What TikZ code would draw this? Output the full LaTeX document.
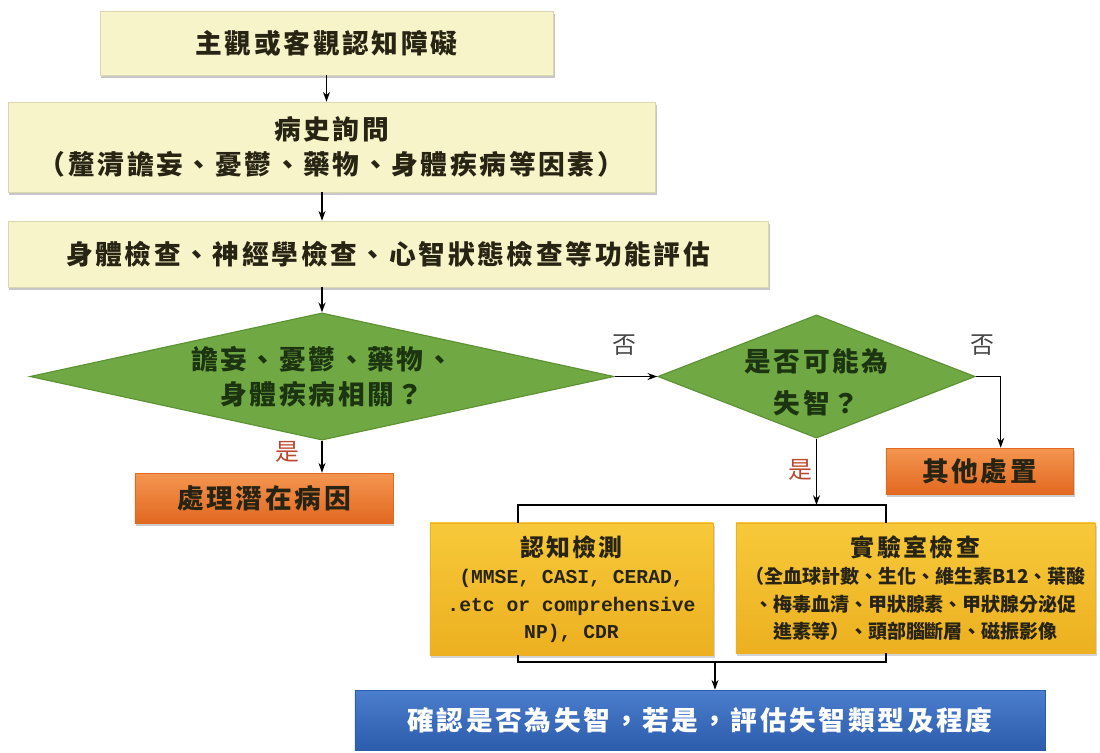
\documentclass[tikz,border=0pt]{standalone}
\usepackage{fontspec}
\setmainfont{Noto Sans CJK TC}[LetterSpace=10]
\newfontfamily\smallcjk{Noto Sans CJK TC}
\setmonofont{Liberation Mono}
\usepackage{tikz}
\usetikzlibrary{arrows.meta,shapes.geometric,shadows,positioning}
\usepackage{xcolor}

\definecolor{creamfill}{RGB}{248,244,202}
\definecolor{greenfill}{RGB}{112,168,68}
\definecolor{greenedge}{RGB}{92,146,52}
\definecolor{greentext}{RGB}{28,52,16}
\definecolor{orangetop}{RGB}{244,150,80}
\definecolor{orangebot}{RGB}{226,104,32}
\definecolor{goldtop}{RGB}{247,201,58}
\definecolor{goldbot}{RGB}{236,176,32}
\definecolor{bluetop}{RGB}{76,126,206}
\definecolor{bluebot}{RGB}{44,92,172}
\definecolor{yesred}{RGB}{184,72,48}
\definecolor{notext}{RGB}{70,70,70}
\definecolor{boxtext}{RGB}{40,36,20}

\begin{document}
\begin{tikzpicture}[x=0.025cm, y=-0.025cm,
    every node/.style={font=\fontsize{19}{25}\selectfont\bfseries, text=boxtext},
    creambox/.style={fill=creamfill, draw=creamfill!88!black, align=center, drop shadow={shadow xshift=1pt, shadow yshift=-2pt, opacity=0.45}},
    decision/.style={diamond, fill=greenfill, draw=greenedge, thick, inner sep=0pt, align=center, text=greentext},
    orangebox/.style={top color=orangetop, bottom color=orangebot, draw=orangebot, align=center, drop shadow={shadow xshift=1pt, shadow yshift=-2pt, opacity=0.4}},
    goldbox/.style={top color=goldtop, bottom color=goldbot, draw=goldbot, align=center, drop shadow={shadow xshift=1pt, shadow yshift=-2pt, opacity=0.35}},
    answer/.style={font=\fontsize{17}{20}\selectfont},
    arr/.style={-{Stealth[length=7pt,width=5pt]}, line width=0.9pt},
    bracket/.style={line width=2pt}]

    \useasboundingbox (0,0) rectangle (1100,752);

    % Complaint
    \node[creambox, minimum width=11.33cm, minimum height=1.6cm] (start) at (326.5,43) {主觀或客觀認知障礙};

    % History taking
    \node[creambox, minimum width=16.18cm, minimum height=2.25cm] (history) at (331.5,147) {病史詢問\\（釐清譫妄、憂鬱、藥物、身體疾病等因素）};

    % Examinations
    \node[creambox, minimum width=19cm, minimum height=1.65cm] (exam) at (388,254) {身體檢查、神經學檢查、心智狀態檢查等功能評估};

    % Decisions
    \node[decision, aspect=4.6, minimum width=14.6cm, minimum height=3.18cm] (related) at (322,376.5) {譫妄、憂鬱、藥物、\\身體疾病相關？};
    \node[decision, aspect=2.58, inner sep=-14pt, minimum width=7.93cm, minimum height=3.08cm, font=\fontsize{19}{30}\selectfont\bfseries] (dementia) at (816.5,376.5) {\\[-6pt]是否可能為\\失智？};

    % Orange outcomes
    \node[orangebox, minimum width=6.45cm, minimum height=1.25cm] (treat) at (264,498) {處理潛在病因};
    \node[orangebox, minimum width=4.68cm, minimum height=1.15cm] (other) at (979.5,471) {其他處置};

    % Work-up
    \node[goldbox, minimum width=7.08cm, minimum height=3.3cm, font=\fontsize{14}{19.5}\selectfont\bfseries] (cog) at (571.5,589)
        {{\fontsize{17}{19.5}\selectfont 認知檢測}\\\ttfamily (MMSE, CASI, CERAD,\\\ttfamily .etc or comprehensive\\\ttfamily NP), CDR};
    \node[goldbox, minimum width=8.98cm, minimum height=3.25cm, font=\fontsize{13.5}{19.5}\selectfont\bfseries] (lab) at (915.5,588)
        {{\fontsize{17}{19.5}\selectfont 實驗室檢查}\\\smallcjk （全血球計數、生化、維生素B12、葉酸\\\smallcjk 、梅毒血清、甲狀腺素、甲狀腺分泌促\\\smallcjk 進素等）、頭部腦斷層、磁振影像};

    % Result
    \node[top color=bluetop, bottom color=bluebot, draw=bluebot, minimum width=17.25cm, minimum height=1.5cm, text=white] (result) at (700,720) {確認是否為失智，若是，評估失智類型及程度};

    % Arrows
    \draw[arr] (start.south) -- (start.south |- history.north);
    \draw[arr] (related.north |- history.south) -- (related.north |- exam.north);
    \draw[arr] (related.north |- exam.south) -- (related.north);
    \draw[arr] (related.south) -- (related.south |- treat.north);
    \draw[arr] (related.east) -- (dementia.west);
    \draw[arr] (dementia.east) -| ([xshift=0.53cm]other.north);

    % Brackets round the work-up
    \coordinate (splitL) at (518,505);
    \coordinate (splitR) at (886,505);
    \coordinate (joinL) at (518,662);
    \coordinate (joinR) at (886,662);
    \coordinate (joinM) at (715,662);
    \draw[bracket] (splitL |- cog.north) -- (splitL) -- (splitR) -- (splitR |- lab.north);
    \draw[bracket] (joinL |- cog.south) -- (joinL) -- (joinR) -- (joinR |- lab.south);
    \draw[arr] (dementia.south) -- (dementia.south |- splitL);
    \draw[arr] (joinM) -- (joinM |- result.north);

    % Yes / no labels
    \node[answer, text=notext] (no1) at (624,345) {否};
    \node[answer, text=notext] (no2) at (982,345) {否};
    \node[answer, text=yesred] (yes1) at (287,452) {是};
    \node[answer, text=yesred] (yes2) at (800,470) {是};

\end{tikzpicture}
\end{document}
